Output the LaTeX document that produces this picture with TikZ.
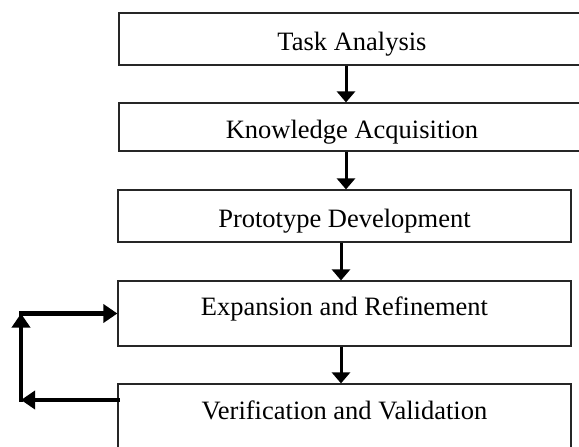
\documentclass[tikz,border=0pt]{standalone}
\usepackage{fontspec}
\setmainfont{Liberation Serif}
\usetikzlibrary{positioning,arrows.meta}

\begin{document}
\begin{tikzpicture}[x=1pt, y=-1pt, node distance =1 cm and 1cm ,on grid ,
stage/.style ={ rectangle , draw=black!85 , line width=1.2pt ,
 minimum width =466pt , inner sep=0pt , font=\fontsize{26.5}{30}\selectfont ,
 text height=24pt , text depth=0.5pt},
narrow/.style={stage , minimum width =453pt},
raised/.style={text height=12.5pt , text depth=8pt},
flow/.style={line width=3pt , -{Triangle[length=11pt,width=18pt]}},
backtip/.style={line width=4.2pt , line cap=rect , -{Triangle[length=14pt,width=18pt]}}
]
    \useasboundingbox (0,0) rectangle (579,447);
    \node[stage, minimum height=52pt] (TA) at (352,39) {Task Analysis};
    \node[stage, minimum height=48pt] (KA) [below = 88pt of TA] {Knowledge Acquisition};
    \node[narrow, minimum height=52pt] (PD) at (344.5,216) {Prototype Development};
    \node[narrow, raised, minimum height=65pt] (ER) [below = 97.5pt of PD] {Expansion and Refinement};
    \node[narrow, raised, minimum height=66pt] (VV) [below = 103.5pt of ER] {Verification and Validation};
    \coordinate (L1) at (21,400);
    \coordinate (L2) at (21,313.5);
    \draw[flow] ([xshift=-6pt]TA.south) to ([xshift=-6pt]KA.north);
    \draw[flow] ([xshift=-6pt]KA.south) to ([xshift=1.5pt]PD.north);
    \draw[flow] ([xshift=-3.5pt]PD.south) to ([xshift=-3.5pt]ER.north);
    \draw[flow] ([xshift=-3.5pt]ER.south) to ([xshift=-3.5pt]VV.north);
    % loop back
    \draw[backtip] ([yshift=17pt]VV.west) to (L1);
    \draw[backtip] (L1) to (L2);
    \draw[backtip] (L2) to (ER.west);
\end{tikzpicture}
\end{document}
